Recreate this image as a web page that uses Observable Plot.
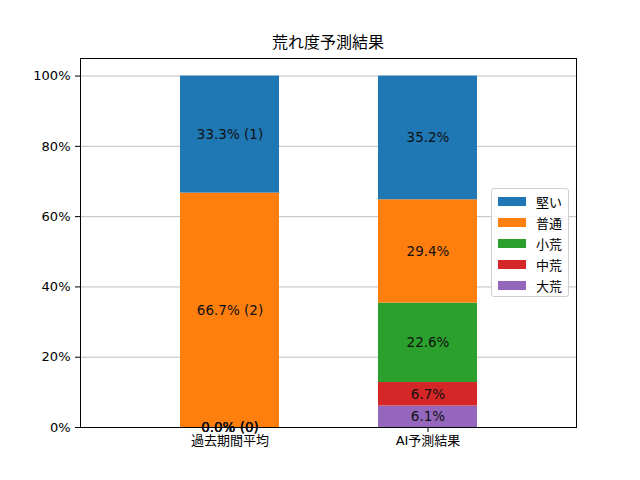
<!DOCTYPE html>
<html>
<head>
<meta charset="utf-8">
<script src="https://cdn.jsdelivr.net/npm/d3@7"></script>
<script src="https://cdn.jsdelivr.net/npm/@observablehq/plot@0.6"></script>
<style>
  html, body { margin: 0; padding: 0; background: #fff; }
  #wrap { position: relative; width: 640px; height: 480px; font-family: 'DejaVu Sans', 'Noto Sans CJK JP', sans-serif; }
  #title { position: absolute; left: 80px; width: 496px; top: 33px; text-align: center; font-size: 16px; line-height: 20px; color: #000; }
  #legend { position: absolute; left: 491px; top: 188px; width: 76px; height: 107px; border: 1px solid #d0d0d0; border-radius: 3px; background: rgba(255,255,255,0.85); box-sizing: content-box; }
  .lrow { position: absolute; left: 0; height: 20px; display: flex; align-items: center; font-size: 13px; color: #000; }
  .lsw { width: 28px; height: 9px; margin-left: 6px; margin-right: 10px; }
</style>
</head>
<body>
<div id="wrap">
  <div id="title"></div>
  <div id="chart"></div>
  <div id="legend"></div>
</div>
<script>
const titleText = "荒れ度予測結果";
const categories = ["過去期間平均", "AI予測結果"];
// stacking order: bottom to top
const levels = ["大荒", "中荒", "小荒", "普通", "堅い"];
const levelColors = ["#9467bd", "#d62728", "#2ca02c", "#ff7f0e", "#1f77b4"];
const pastPct = [0.0, 0.0, 0.0, 66.7, 33.3];
const pastCount = [0, 0, 0, 2, 1];
const aiPct = [6.1, 6.7, 22.6, 29.4, 35.2];
const yTicks = [0, 20, 40, 60, 80, 100];

const rows = [];
levels.forEach((lv, i) => rows.push({cat: categories[0], level: lv, pct: pastPct[i], label: `${pastPct[i].toFixed(1)}% (${pastCount[i]})`}));
levels.forEach((lv, i) => rows.push({cat: categories[1], level: lv, pct: aiPct[i], label: `${aiPct[i].toFixed(1)}%`}));

document.getElementById("title").textContent = titleText;

const chart = Plot.plot({
  width: 640,
  height: 480,
  marginTop: 58,
  marginBottom: 53,
  marginLeft: 80,
  marginRight: 64,
  style: {fontFamily: "'DejaVu Sans', 'Noto Sans CJK JP', sans-serif", fontSize: "13px", background: "#fff", color: "#000"},
  x: {domain: categories, paddingInner: 0.5, paddingOuter: 0.5, label: null},
  y: {domain: [0, 105], label: null},
  color: {domain: levels, range: levelColors},
  marks: [
    Plot.gridY(yTicks, {stroke: "#b0b0b0", strokeOpacity: 1, strokeWidth: 0.8}),
    Plot.barY(rows, Plot.stackY({x: "cat", y: "pct", z: "level", fill: "level"})),
    Plot.text(rows, Plot.stackY({x: "cat", y: "pct", z: "level", text: "label", fill: "#111", fontSize: 13.5})),
    Plot.frame({stroke: "#000", strokeWidth: 1}),
    Plot.axisY(yTicks, {tickFormat: d => d + "%", tickSize: 5, tickPadding: 5, label: null, fontSize: 13}),
    Plot.axisX({tickSize: 5, tickPadding: 3, label: null, fontSize: 13})
  ]
});
document.getElementById("chart").appendChild(chart);

const legend = document.getElementById("legend");
const order = levels.map((lv, i) => ({lv, c: levelColors[i]})).reverse();
order.forEach((d, i) => {
  const row = document.createElement("div");
  row.className = "lrow";
  row.style.top = (2 + i * 21) + "px";
  const sw = document.createElement("span");
  sw.className = "lsw";
  sw.style.background = d.c;
  const t = document.createElement("span");
  t.textContent = d.lv;
  row.appendChild(sw);
  row.appendChild(t);
  legend.appendChild(row);
});
</script>
</body>
</html>
